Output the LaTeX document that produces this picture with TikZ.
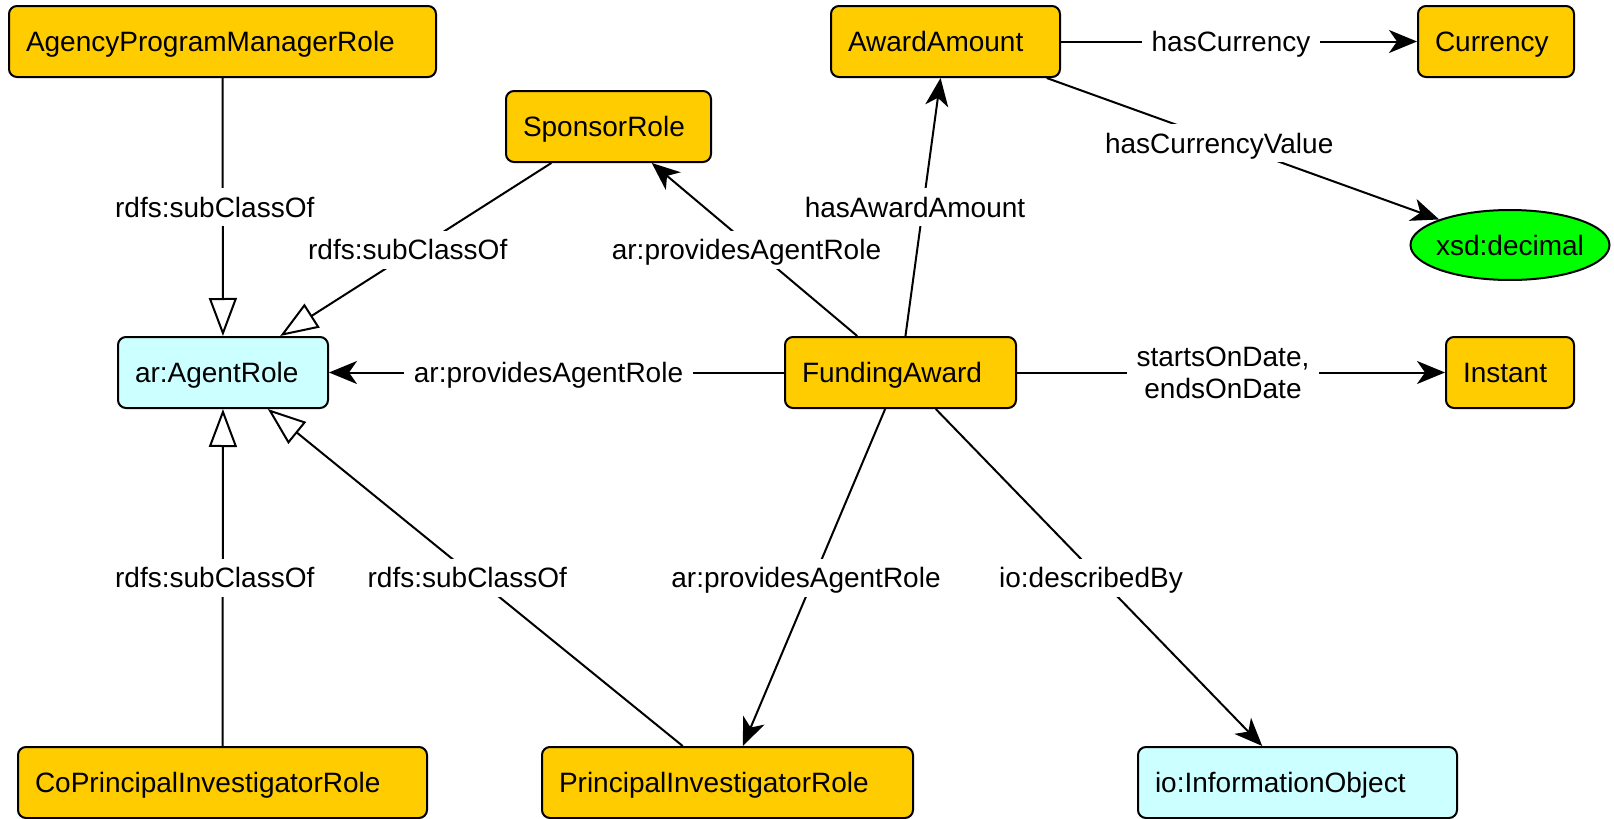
\documentclass[tikz,border=0pt]{standalone}
\usepackage{fontspec}
\setmainfont{Liberation Sans}
\usetikzlibrary{arrows.meta,shapes.geometric}

\definecolor{classgold}{HTML}{FFCC00}
\definecolor{extcyan}{HTML}{CCFFFF}
\definecolor{dtgreen}{HTML}{00FF00}

\begin{document}
\begin{tikzpicture}[
        x=0.5pt, y=-0.5pt,
        font=\fontsize{14pt}{16pt}\selectfont,
        line width=1pt,
        cls/.style={rectangle, draw, rounded corners=4pt, fill=classgold, minimum height=35.5pt, inner xsep=8.5pt, align=left, text height=10.5pt, text depth=0.5pt},
        extcls/.style={cls, fill=extcyan},
        datatype/.style={ellipse, draw, fill=dtgreen, minimum width=99.5pt, minimum height=35pt, inner xsep=-2pt, inner ysep=0pt},
        prop/.style={-{Stealth[length=14pt,width=11.5pt,inset=4pt]}},
        subcls/.style={-{Triangle[open,length=19pt,width=14pt]}},
        lbl/.style={fill=white, inner xsep=5pt, inner ysep=4pt, xshift=-4pt, text height=10.5pt, text depth=0.5pt},
        lbltwo/.style={fill=white, inner xsep=5pt, inner ysep=3pt, xshift=-4pt, align=center}
    ]
        \useasboundingbox (0,0) rectangle (1614,819);

        % Clases
        \node[cls, text width=196.5pt] (apm) at (222.5,41.5) {AgencyProgramManagerRole};
        \node[extcls, text width=88pt] (agent) at (223,372.5) {ar:AgentRole};
        \node[cls, text width=85.5pt] (sponsor) at (608.5,126.5) {SponsorRole};
        \node[cls, text width=97.5pt] (amount) at (945.5,41.5) {AwardAmount};
        \node[cls, text width=61pt] (currency) at (1496,41.5) {Currency};
        \node[datatype] (decimal) at (1510,245) {xsd:decimal};
        \node[cls, text width=98.5pt] (award) at (900.5,372.5) {FundingAward};
        \node[cls, text width=47pt] (instant) at (1510,372.5) {Instant};
        \node[cls, text width=187.5pt] (copi) at (222.5,782.5) {CoPrincipalInvestigatorRole};
        \node[cls, text width=168.5pt] (pi) at (727.5,782.5) {PrincipalInvestigatorRole};
        \node[extcls, text width=142.5pt] (info) at (1297.5,782.5) {io:InformationObject};

        % Subclases
        \draw[subcls] (apm) -- node[lbl] {rdfs:subClassOf} (agent);
        \draw[subcls] (sponsor) -- node[lbl] {rdfs:subClassOf} (agent);
        \draw[subcls] (copi) -- node[lbl] {rdfs:subClassOf} (agent);
        \draw[subcls] (pi) -- node[lbl] {rdfs:subClassOf} (agent);

        % Propiedades
        \draw[prop] (award) -- node[lbl] {ar:providesAgentRole} (agent);
        \draw[prop] (award) -- node[lbl] {ar:providesAgentRole} (sponsor);
        \draw[prop] (award) -- node[lbl] {ar:providesAgentRole} (pi);
        \draw[prop] (award) -- node[lbl] {hasAwardAmount} (amount);
        \draw[prop] (award) -- node[lbl] {io:describedBy} (info);
        \draw[prop] (award) -- node[lbltwo] {startsOnDate,\\endsOnDate} (instant);
        \draw[prop] (amount) -- node[lbl] {hasCurrency} (currency);
        \draw[prop] (amount) -- node[lbl, pos=0.46] {hasCurrencyValue} (decimal);

    \end{tikzpicture}
\end{document}
